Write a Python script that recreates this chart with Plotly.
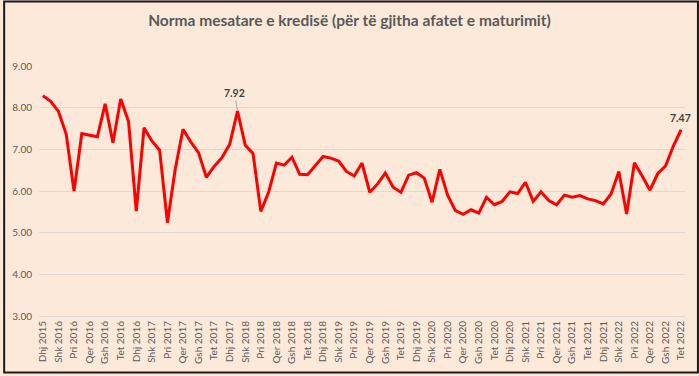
import plotly.graph_objects as go

month_abbr = ["Jan", "Shk", "Mar", "Pri", "Maj", "Qer", "Kor", "Gsh", "Sht", "Tet", "Nën", "Dhj"]
categories = ["Dhj 2015"] + [f"{m} {y}" for y in range(2016, 2023) for m in month_abbr]
categories = categories[:83]  # Dhj 2015 ... Tet 2022

rates = [
    8.29, 8.15, 7.91, 7.36, 6.00, 7.38, 7.34, 7.30, 8.09, 7.16, 8.21, 7.67,
    5.52, 7.52, 7.20, 6.98, 5.24, 6.52, 7.48, 7.18, 6.92, 6.33, 6.59, 6.80,
    7.12, 7.92, 7.10, 6.90, 5.51, 5.97, 6.67, 6.62, 6.81, 6.40, 6.39, 6.60,
    6.83, 6.79, 6.72, 6.47, 6.36, 6.67, 5.97, 6.17, 6.43, 6.09, 5.97, 6.38,
    6.44, 6.31, 5.73, 6.52, 5.90, 5.53, 5.44, 5.55, 5.47, 5.85, 5.67, 5.75,
    5.98, 5.94, 6.21, 5.75, 5.98, 5.77, 5.67, 5.90, 5.85, 5.89, 5.81, 5.77,
    5.69, 5.93, 6.47, 5.45, 6.68, 6.36, 6.02, 6.42, 6.60, 7.08, 7.47,
]

tick_labels = categories[::2]
y_ticks = [3, 4, 5, 6, 7, 8, 9]
y_tick_text = ["3.00", "4.00", "5.00", "6.00", "7.00", "8.00", "9.00"]

title = "Norma mesatare e kredisë (për të gjitha afatet e maturimit)"
label_points = [("Jan 2018", 7.92), ("Tet 2022", 7.47)]

bg = "#FDE9DA"
text_col = "#595959"
font_family = "Lato, 'Open Sans', sans-serif"

fig = go.Figure()
fig.add_trace(go.Scatter(
    x=categories, y=rates, mode="lines",
    line=dict(color="#FF0000", width=3),
    hoverinfo="x+y",
))

W, H = 699, 376
ml, mr, mt, mb = 36, 14, 66, 58
pw, ph = W - ml - mr, H - mt - mb

fig.add_annotation(x=label_points[0][0], y=label_points[0][1], text=f"<b>{label_points[0][1]:.2f}</b>",
                   showarrow=True, arrowhead=0, arrowwidth=1, arrowcolor="#A6A6A6",
                   ax=-3, ay=-18, font=dict(size=10.5, color="#404040", family=font_family))
fig.add_annotation(x=label_points[1][0], y=label_points[1][1], text=f"<b>{label_points[1][1]:.2f}</b>",
                   showarrow=False, yshift=12, xshift=-1,
                   font=dict(size=10.5, color="#404040", family=font_family))

# outer border
fig.add_shape(type="rect", xref="paper", yref="paper",
              x0=(1 - ml) / pw, x1=(W - 1 - ml) / pw,
              y0=(-mb + 1) / ph, y1=(H - mb - 1) / ph,
              line=dict(color="#1a1a1a", width=2), fillcolor="rgba(0,0,0,0)", layer="above")

fig.update_layout(
    width=W, height=H,
    margin=dict(l=ml, r=mr, t=mt, b=mb),
    paper_bgcolor=bg, plot_bgcolor=bg,
    showlegend=False,
    title=dict(text=f"<b>{title}</b>", x=0.5, xanchor="center", y=1 - 21 / H, yanchor="middle",
               font=dict(size=15.5, color=text_col, family=font_family)),
    font=dict(family=font_family, color=text_col),
    xaxis=dict(
        type="category", range=[-0.5, 82.5],
        tickmode="array", tickvals=tick_labels, ticktext=tick_labels,
        tickangle=-90, tickfont=dict(size=10, color=text_col, family=font_family),
        showgrid=False, showline=True, linecolor="#D9D9D9", linewidth=1,
        ticks="", zeroline=False,
    ),
    yaxis=dict(
        range=[3, 9], tickmode="array", tickvals=y_ticks, ticktext=y_tick_text,
        tickfont=dict(size=10, color=text_col, family=font_family),
        showgrid=True, gridcolor="#D9D9D9", gridwidth=1,
        showline=False, zeroline=False, ticks="", ticklabelstandoff=6,
    ),
)

fig.write_html(
    "out.html",
    config={"displayModeBar": False},
    post_script="document.body.style.margin='0';document.body.style.overflow='hidden';",
)
